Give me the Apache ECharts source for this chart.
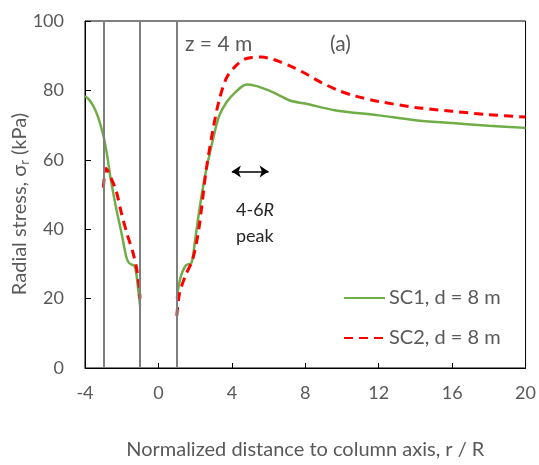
<!DOCTYPE html>
<html>
<head>
<meta charset="utf-8">
<script src="https://cdn.jsdelivr.net/npm/echarts@6/dist/echarts.min.js"></script>
<style>
  html, body { margin: 0; padding: 0; background: #fff; }
  #chart { width: 539px; height: 465px; }
</style>
</head>
<body>
<div id="chart"></div>
<script>
// Radial stress profiles at z = 4 m, r/R measured from the column axis.
// Each curve has a left branch (r/R < -1) and a right branch (r/R > 1).
var sc1LeftX  = [-4, -3.8, -3.55, -3.3, -3.0, -2.8, -2.6, -2.3, -2.0, -1.75, -1.6, -1.45, -1.3, -1.2, -1.1, -1.0];
var sc1LeftY  = [78.3, 77.5, 75.5, 72.5, 67, 61.5, 54.5, 46, 38.6, 32, 30.3, 29.8, 29.5, 27, 22.5, 18];
var sc1RightX = [1.0, 1.2, 1.5, 1.8, 2.0, 2.3, 2.6, 3.0, 3.3, 3.7, 4.2, 4.8, 5.3, 5.9, 6.5, 7.2, 8.0, 9.6, 12, 14, 16, 18, 20];
var sc1RightY = [20, 26, 29.6, 30.3, 37, 48, 57, 66.5, 72.5, 76.5, 79.5, 81.7, 81.3, 80.2, 78.8, 77.0, 76.2, 74.3, 72.8, 71.4, 70.6, 69.8, 69.2];

var sc2LeftX  = [-3.0, -2.85, -2.6, -2.3, -2.0, -1.7, -1.4, -1.2, -1.05, -1.0];
var sc2LeftY  = [52, 57.5, 55, 51, 44.3, 38.5, 33.5, 29, 23.5, 20];
var sc2RightX = [1.0, 1.15, 1.5, 1.85, 2.2, 2.6, 3.0, 3.3, 3.7, 4.2, 4.7, 5.1, 5.6, 6.0, 6.6, 7.4, 8.2, 8.9, 9.8, 10.7, 12, 14, 16, 18, 20];
var sc2RightY = [15, 21.5, 27, 31, 40, 57, 69.5, 77, 83.5, 87, 89, 89.5, 89.6, 89.3, 88.3, 86.5, 84.3, 82.2, 80, 78.4, 76.8, 75.1, 74, 73, 72.3];

// Column edges drawn as vertical reference lines
var columnEdges = [-3, -1, 1];
// Double arrow marking the 4-6R peak zone
var peakZone = [4, 6];
var peakArrowY = 56.6;

var seriesNames = ['SC1, d = 8 m', 'SC2, d = 8 m'];

function joinBranches(lx, ly, rx, ry) {
  var out = [];
  for (var i = 0; i < lx.length; i++) out.push([lx[i], ly[i]]);
  out.push([0, '-']); // gap inside the column
  for (var j = 0; j < rx.length; j++) out.push([rx[j], ry[j]]);
  return out;
}

var axisFont = 'Lato, "Open Sans", sans-serif';
var grey = '#595959';

var chart = echarts.init(document.getElementById('chart'), null, { renderer: 'canvas' });
chart.setOption({
  animation: false,
  backgroundColor: '#fff',
  grid: { left: 85, right: 10, top: 21, bottom: 93, show: true, borderColor: '#000', borderWidth: 1 },
  xAxis: {
    type: 'value', min: -4, max: 20, interval: 4,
    name: 'Normalized distance to column axis, r / R',
    nameLocation: 'middle', nameGap: 72,
    nameTextStyle: { color: grey, fontSize: 20, fontFamily: axisFont },
    axisLine: { onZero: false, lineStyle: { color: '#000', width: 1 } },
    axisTick: { inside: true, length: 5, lineStyle: { color: '#000' } },
    axisLabel: { color: grey, fontSize: 18, fontFamily: axisFont, margin: 16 },
    splitLine: { show: false }
  },
  yAxis: {
    type: 'value', min: 0, max: 100, interval: 20,
    axisLine: { show: true, onZero: false, lineStyle: { color: '#000', width: 1 } },
    axisTick: { show: true, inside: true, length: 6, lineStyle: { color: '#000' } },
    axisLabel: { color: grey, fontSize: 18, fontFamily: axisFont, margin: 21 },
    splitLine: { show: false }
  },
  legend: {
    orient: 'vertical', left: 343, top: 288, padding: 0,
    itemWidth: 41, itemHeight: 14, itemGap: 20,
    itemStyle: { opacity: 0 },
    textStyle: { color: grey, fontSize: 20, fontFamily: axisFont, padding: [0, 0, 0, -1] },
    data: seriesNames
  },
  series: [
    {
      name: seriesNames[0], type: 'line', smooth: 0.3, symbol: 'none', connectNulls: false,
      lineStyle: { color: '#70AD47', width: 2.5 }, itemStyle: { color: '#70AD47' },
      data: joinBranches(sc1LeftX, sc1LeftY, sc1RightX, sc1RightY),
      z: 3,
      markLine: {
        silent: true, symbol: 'none', label: { show: false },
        lineStyle: { color: '#7f7f7f', width: 2, type: 'solid' },
        data: columnEdges.map(function (v) { return { xAxis: v }; })
      }
    },
    {
      name: seriesNames[1], type: 'line', smooth: 0.3, symbol: 'none', connectNulls: false,
      lineStyle: { color: '#FF0000', width: 3, type: [9, 6] }, itemStyle: { color: '#FF0000' },
      data: joinBranches(sc2LeftX, sc2LeftY, sc2RightX, sc2RightY),
      z: 4,
      markLine: {
        silent: true, symbol: ['arrow', 'arrow'], symbolSize: [9, 9], label: { show: false },
        lineStyle: { color: '#000', width: 1.5, type: 'solid' },
        data: [[{ coord: [peakZone[0], peakArrowY] }, { coord: [peakZone[1], peakArrowY] }]]
      }
    }
  ],
  graphic: [
    {
      // y-axis title with subscript r
      type: 'text', x: 20, y: 204, rotation: Math.PI / 2,
      style: {
        text: 'Radial stress, σ{sub|r} (kPa)', fill: grey, fontSize: 20, fontFamily: axisFont,
        align: 'center', verticalAlign: 'middle',
        rich: { sub: { fontSize: 13, fill: grey, fontFamily: axisFont, padding: [9, 0, 0, 0] } }
      }
    },
    { type: 'text', left: 185, top: 34, style: { text: 'z = 4 m', fill: grey, fontSize: 21, fontFamily: axisFont } },
    { type: 'text', left: 330, top: 34, style: { text: '(a)', fill: grey, fontSize: 21, fontFamily: axisFont } },
    {
      type: 'text', left: 236, top: 197,
      style: {
        text: '4-6{i|R}\npeak', fill: '#262626', fontSize: 18, fontFamily: axisFont, lineHeight: 26,
        rich: { i: { fontStyle: 'italic', fontSize: 18, fill: '#262626', fontFamily: axisFont } }
      }
    }
  ]
});
</script>
</body>
</html>
